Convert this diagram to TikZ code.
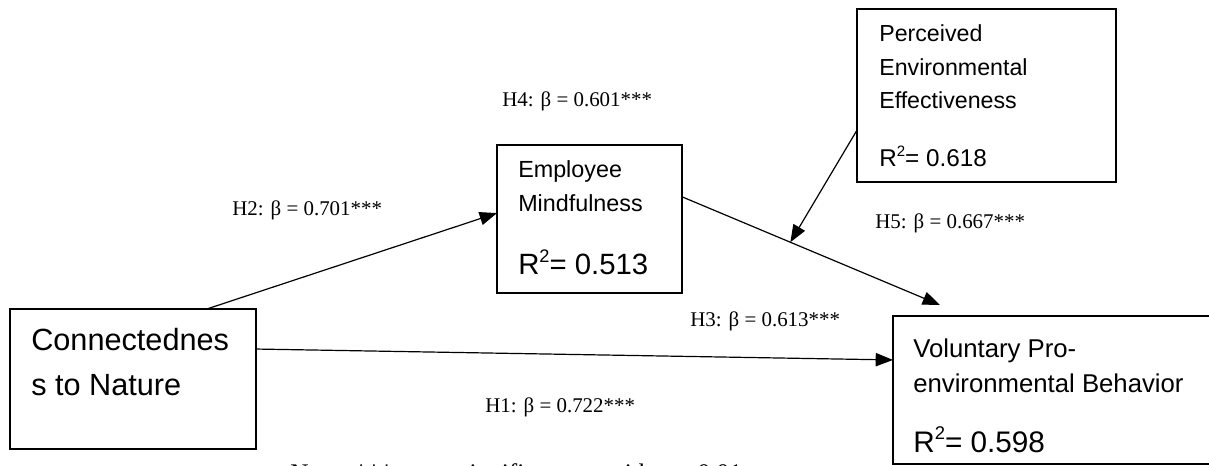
\documentclass[tikz,border=0pt]{standalone}
\usepackage{fontspec}
\setmainfont{Liberation Serif}
\newfontfamily\sansf{Liberation Sans}
\usetikzlibrary{arrows.meta,calc}
\newcommand{\sqr}{\raisebox{0.42em}{\scalebox{0.62}{2}}}
\begin{document}
\begin{tikzpicture}[x=0.75pt,y=-0.75pt,
 box/.style={draw, line width=1.4pt, inner sep=0pt, outer sep=0pt},
 conn/.style={line width=0.9pt, -{Triangle[length=13pt,width=10pt]}},
 lab/.style={font=\fontsize{15.7}{18}\selectfont, anchor=base west, inner sep=0pt},
 txt/.style={anchor=base west, inner sep=0pt}]
\useasboundingbox (0,0) rectangle (1209,466);
\clip (0,0) rectangle (1209,466);
% boxes
\node[box, minimum width=184.5pt, minimum height=105pt] (cn) at (133,379) {};
\node[box, minimum width=138.75pt, minimum height=111pt] (em) at (589.5,219) {};
\node[box, minimum width=194.25pt, minimum height=129.75pt] (pe) at (986.5,95.5) {};
\node[box, minimum width=245.25pt, minimum height=111pt] (vb) at (1056.5,390) {};
% box texts
\node[txt, font=\sansf\fontsize{23}{27}\selectfont] (cn1) at (31,350) {Connectednes};
\node[txt, font=\sansf\fontsize{23}{27}\selectfont] (cn2) at (31,395) {s to Nature};
\node[txt, font=\sansf\fontsize{17.5}{21}\selectfont] (em1) at (518,178) {Employee};
\node[txt, font=\sansf\fontsize{17.5}{21}\selectfont] (em2) at (518,212) {Mindfulness};
\node[txt, font=\sansf\fontsize{22}{26}\selectfont] (em3) at (518,275) {R\sqr= 0.513};
\node[txt, font=\sansf\fontsize{17.4}{21}\selectfont] (pe1) at (879,42) {Perceived};
\node[txt, font=\sansf\fontsize{17.4}{21}\selectfont] (pe2) at (879,76) {Environmental};
\node[txt, font=\sansf\fontsize{17.4}{21}\selectfont] (pe3) at (879,109) {Effectiveness};
\node[txt, font=\sansf\fontsize{18.2}{22}\selectfont] (pe4) at (879,167) {R\sqr= 0.618};
\node[txt, font=\sansf\fontsize{19.3}{23}\selectfont] (vb1) at (913,357) {Voluntary Pro-};
\node[txt, font=\sansf\fontsize{19.3}{23}\selectfont] (vb2) at (913,392) {environmental Behavior};
\node[txt, font=\sansf\fontsize{22.3}{26}\selectfont] (vb3) at (913,452) {R\sqr= 0.598};
% labels
\node[lab] (h4) at (502,107) {H4: β = 0.601***};
\node[lab] (h2) at (232,216) {H2: β = 0.701***};
\node[lab] (h5) at (875,229) {H5: β = 0.667***};
\node[lab] (h3) at (690,326) {H3: β = 0.613***};
\node[lab] (h1) at (485,412) {H1: β = 0.722***};
\node[lab, font=\fontsize{19}{22}\selectfont] (note) at (290,481) {Note: ***\hspace{50pt}significant\hspace{30pt}with\hspace{8pt}p\,<\,0.01};
% connector points
\coordinate (s2) at ($(cn.north west)!0.80!(cn.north east)$);
\coordinate (e2) at ($(em.north west)!0.46!(em.south west)$);
\coordinate (s1) at ($(cn.north east)!0.286!(cn.south east)$);
\coordinate (e1) at ($(vb.north west)!0.297!(vb.south west)$);
\coordinate (s3) at ($(em.north east)!0.35!(em.south east)$);
\coordinate (e3) at (940,305);
\coordinate (s5) at ($(pe.north west)!0.70!(pe.south west)$);
\coordinate (e5) at ($(s3)!0.42!(e3)$);
% connectors
\draw[conn] (s2) -- (e2);
\draw[conn] (s1) -- (e1);
\draw[conn] (s3) -- (e3);
\draw[conn] (s5) -- (e5);
\end{tikzpicture}
\end{document}
